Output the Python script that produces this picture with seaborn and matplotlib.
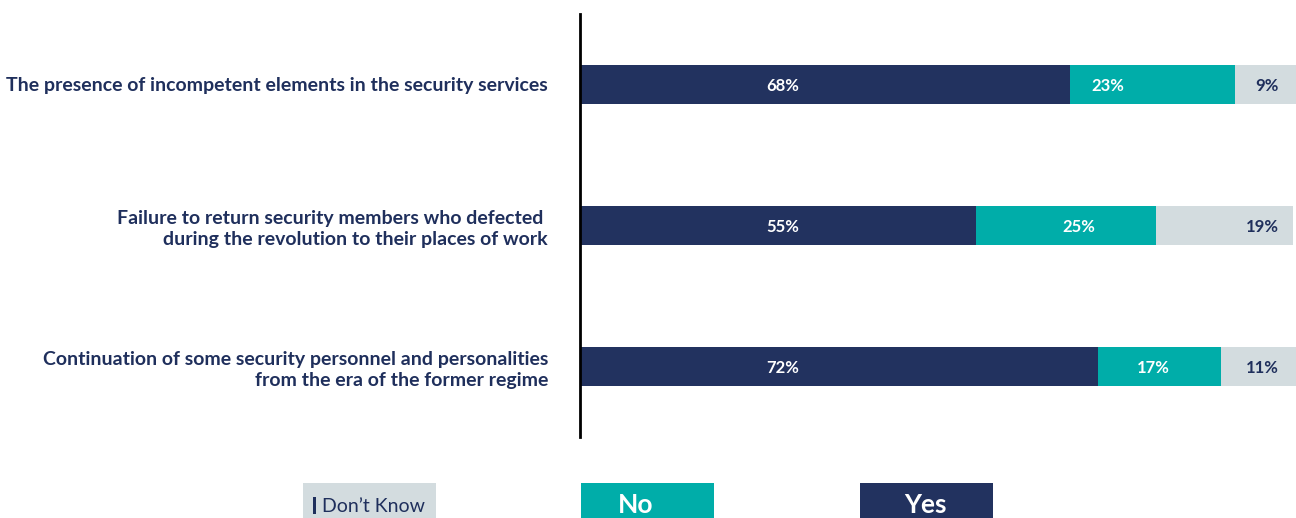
import matplotlib
matplotlib.use("Agg")
import matplotlib.pyplot as plt
from matplotlib.patches import Rectangle
import seaborn as sns
import pandas as pd
import numpy as np

# Survey items and response shares (%)
categories = [
    "The presence of incompetent elements in the security services",
    "Failure to return security members who defected \nduring the revolution to their places of work",
    "Continuation of some security personnel and personalities\nfrom the era of the former regime",
]
yes_vals = [68, 55, 72]
no_vals = [23, 25, 17]
dk_vals = [9, 19, 11]

# Label anchor positions along the x axis (percent scale)
yes_label_x = [28.2, 28.2, 28.2]
no_label_x = [73.3, 69.3, 79.6]
dk_label_x = [95.4, 94.7, 94.7]

NAVY = "#22325F"
TEAL = "#00ADA9"
GREY = "#D3DCDF"
TEXT = "#1F2F5C"

sns.set_theme(style="white")
plt.rcParams["font.family"] = ["Lato", "DejaVu Sans"]

df = pd.DataFrame({"item": categories, "Yes": yes_vals, "No": no_vals, "DK": dk_vals})
df["cum_no"] = df["Yes"] + df["No"]
df["cum_dk"] = df["cum_no"] + df["DK"]

fig = plt.figure(figsize=(12.96, 5.18), dpi=100)
ax = fig.add_axes([0.4475, 0.1564, 0.5525, 0.8166])

bw = 0.27
sns.barplot(data=df, y="item", x="cum_dk", color=GREY, orient="h", width=bw,
            saturation=1, ax=ax, linewidth=0)
sns.barplot(data=df, y="item", x="cum_no", color=TEAL, orient="h", width=bw,
            saturation=1, ax=ax, linewidth=0)
sns.barplot(data=df, y="item", x="Yes", color=NAVY, orient="h", width=bw,
            saturation=1, ax=ax, linewidth=0)

for i in range(len(categories)):
    ax.text(yes_label_x[i], i, f"{yes_vals[i]}%", color="white", ha="center",
            va="center_baseline", fontsize=12, fontweight="bold")
    ax.text(no_label_x[i], i, f"{no_vals[i]}%", color="white", ha="center",
            va="center_baseline", fontsize=12, fontweight="bold")
    ax.text(dk_label_x[i], i, f"{dk_vals[i]}%", color=TEXT, ha="center",
            va="center_baseline", fontsize=12, fontweight="bold")

ax.set_xlim(0, 99.44)
ax.set_ylim(2.5, -0.5)
ax.set_xlabel("")
ax.set_ylabel("")
ax.set_xticks([])
for s in ["top", "right", "bottom"]:
    ax.spines[s].set_visible(False)
ax.spines["left"].set_color("black")
ax.spines["left"].set_linewidth(2)
ax.tick_params(axis="y", length=0, pad=23)
for lbl in ax.get_yticklabels():
    lbl.set_fontsize(14)
    lbl.set_fontweight("bold")
    lbl.set_color(TEXT)
    lbl.set_horizontalalignment("right")
    lbl.set_multialignment("right")
    lbl.set_linespacing(1.3)

# Legend boxes along the bottom edge
W, H = 1296, 518
def fx(px):
    return px / W
def fy(py):
    return 1 - py / H

legend_items = [("Don’t Know", GREY, TEXT, 303, "normal", 14, None),
                ("No", TEAL, "white", 581, "bold", 19, 636),
                ("Yes", NAVY, "white", 860, "bold", 19, 925)]
for label, fc, tc, x0, fw, fs, xc in legend_items:
    fig.patches.append(Rectangle((fx(x0), 0), fx(133), fy(483), transform=fig.transFigure,
                                 facecolor=fc, edgecolor="none", zorder=0))
    if xc is None:
        fig.patches.append(Rectangle((fx(313), fy(514)), fx(3), 17 / H,
                                     transform=fig.transFigure, facecolor=TEXT,
                                     edgecolor="none", zorder=1))
        fig.text(fx(322), fy(506), label, color=tc, ha="left", va="center",
                 fontsize=fs, fontweight=fw)
    else:
        fig.text(fx(xc), fy(505), label, color=tc, ha="center", va="center",
                 fontsize=fs, fontweight=fw)

fig.savefig("out.png", dpi=100)
